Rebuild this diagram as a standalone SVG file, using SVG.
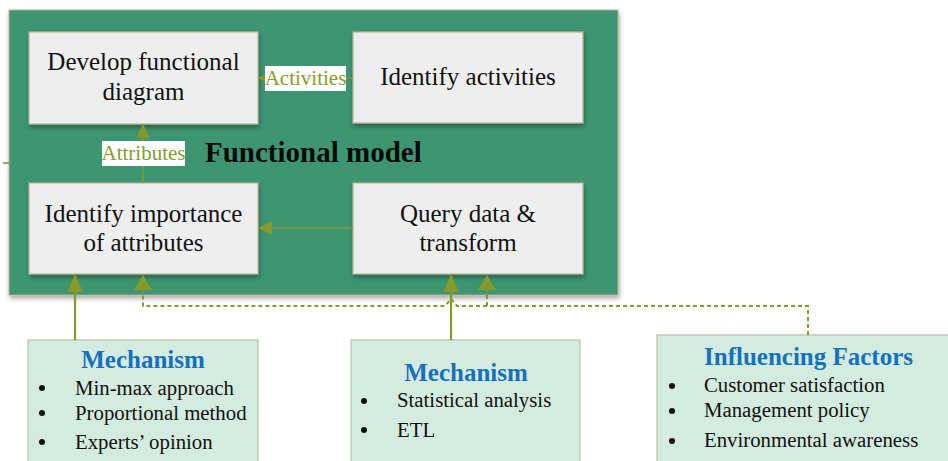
<svg xmlns="http://www.w3.org/2000/svg" width="948" height="461" viewBox="0 0 948 461">
  <defs>
    <style>
      .frame { fill: #3d9671; stroke: #b7b08e; stroke-width: 1; }
      .step { fill: #eeeeee; stroke: #b9b59a; stroke-width: 1.2; }
      .step-text { font-family: "Liberation Serif", "Times New Roman", serif; font-size: 25px; fill: #111111; text-anchor: middle; }
      .title { font-family: "Liberation Serif", "Times New Roman", serif; font-size: 29px; font-weight: bold; fill: #0a0a0a; }
      .tag { fill: #ffffff; }
      .tag-text { font-family: "Liberation Serif", "Times New Roman", serif; font-size: 21px; fill: #8b9b2c; text-anchor: middle; }
      .card { fill: #d4ecdf; stroke: #b3c4a4; stroke-width: 1.2; }
      .card-head { font-family: "Liberation Serif", "Times New Roman", serif; font-size: 25px; font-weight: bold; fill: #1670c0; }
      .card-text { font-family: "Liberation Serif", "Times New Roman", serif; font-size: 20.8px; fill: #111111; }
      .bullet { fill: #111111; }
      .flow { stroke: #86992d; stroke-width: 2.2; fill: none; }
      .thin { stroke: #86992d; stroke-width: 1.6; fill: none; }
      .dash { stroke: #86992d; stroke-width: 2; fill: none; stroke-dasharray: 4 3; }
      .tip { fill: #86992d; }
    </style>
    <marker id="head" markerWidth="14" markerHeight="14" refX="13" refY="7" orient="auto" markerUnits="userSpaceOnUse">
      <path d="M0,0 L14,7 L0,14 Z" fill="#86992d"/>
    </marker>
    <marker id="head-big" markerWidth="18" markerHeight="16" refX="17" refY="8" orient="auto" markerUnits="userSpaceOnUse">
      <path d="M0,0 L18,8 L0,16 Z" fill="#86992d"/>
    </marker>
    <marker id="head-small" markerWidth="9" markerHeight="9" refX="8" refY="4.5" orient="auto" markerUnits="userSpaceOnUse">
      <path d="M0,0 L9,4.5 L0,9 Z" fill="#86992d"/>
    </marker>
    <filter id="shade" x="-5%" y="-5%" width="112%" height="115%">
      <feGaussianBlur in="SourceAlpha" stdDeviation="2.5"/>
      <feOffset dx="1" dy="3" result="b"/>
      <feComponentTransfer><feFuncA type="linear" slope="0.35"/></feComponentTransfer>
      <feMerge><feMergeNode/><feMergeNode in="SourceGraphic"/></feMerge>
    </filter>
  </defs>

  <rect width="948" height="461" fill="#ffffff"/>

  <!-- outer container -->
  <g id="functional-model">
    <rect class="frame" x="9" y="10" width="609" height="285" filter="url(#shade)"/>
    <text class="title" x="205" y="162">Functional model</text>
  </g>

  <g id="develop-diagram">
    <rect class="step" x="29" y="32" width="229" height="92" filter="url(#shade)"/>
    <text class="step-text" x="143.5" y="70">Develop functional</text>
    <text class="step-text" x="143.5" y="100">diagram</text>
  </g>

  <g id="identify-activities">
    <rect class="step" x="353" y="32" width="230" height="91" filter="url(#shade)"/>
    <text class="step-text" x="468" y="85">Identify activities</text>
  </g>

  <g id="identify-importance">
    <rect class="step" x="29" y="183" width="229" height="91" filter="url(#shade)"/>
    <text class="step-text" x="143.5" y="222">Identify importance</text>
    <text class="step-text" x="143.5" y="251">of attributes</text>
  </g>

  <g id="query-transform">
    <rect class="step" x="353" y="183" width="230" height="91" filter="url(#shade)"/>
    <text class="step-text" x="468" y="222">Query data &amp;</text>
    <text class="step-text" x="468" y="251">transform</text>
  </g>

  <g id="mechanism-attributes">
    <rect class="card" x="28" y="340" width="230" height="130"/>
    <text class="card-head" x="143" y="368" text-anchor="middle">Mechanism</text>
    <circle class="bullet" cx="42" cy="388" r="3"/>
    <circle class="bullet" cx="42" cy="413" r="3"/>
    <circle class="bullet" cx="42" cy="442" r="3"/>
    <text class="card-text" x="75" y="395">Min-max approach</text>
    <text class="card-text" x="75" y="420">Proportional method</text>
    <text class="card-text" x="75" y="449">Experts’ opinion</text>
  </g>

  <g id="mechanism-query">
    <rect class="card" x="351" y="340" width="229" height="130"/>
    <text class="card-head" x="466" y="381" text-anchor="middle">Mechanism</text>
    <circle class="bullet" cx="364" cy="401" r="3"/>
    <circle class="bullet" cx="364" cy="430" r="3"/>
    <text class="card-text" x="397" y="407">Statistical analysis</text>
    <text class="card-text" x="397" y="437">ETL</text>
  </g>

  <g id="influencing-factors">
    <rect class="card" x="657" y="335" width="300" height="135"/>
    <text class="card-head" x="704" y="365">Influencing Factors</text>
    <circle class="bullet" cx="672" cy="386" r="3"/>
    <circle class="bullet" cx="672" cy="411" r="3"/>
    <circle class="bullet" cx="672" cy="441" r="3"/>
    <text class="card-text" x="704" y="392">Customer satisfaction</text>
    <text class="card-text" x="704" y="417">Management policy</text>
    <text class="card-text" x="704" y="447">Environmental awareness</text>
  </g>

  <g id="connectors">
    <!-- activities feed the functional diagram -->
    <line class="thin" x1="353" y1="78" x2="259" y2="78" marker-end="url(#head-small)"/>
    <rect class="tag" x="265" y="66" width="81" height="25"/>
    <text class="tag-text" x="305.5" y="85">Activities</text>

    <!-- attribute importance feeds the functional diagram -->
    <line class="thin" x1="143" y1="183" x2="143" y2="125" marker-end="url(#head)"/>
    <rect class="tag" x="102" y="141" width="83" height="25"/>
    <text class="tag-text" x="143.5" y="160">Attributes</text>

    <!-- query output to importance step -->
    <line class="thin" x1="353" y1="228" x2="259" y2="228" marker-end="url(#head)"/>

    <!-- mechanisms -->
    <line class="flow" x1="75" y1="340" x2="75" y2="275" marker-end="url(#head-big)"/>
    <line class="flow" x1="451" y1="340" x2="451" y2="275" marker-end="url(#head-big)"/>

    <!-- influencing factors, dashed, hopping over the mechanism line -->
    <path class="dash" d="M808,335 V306 H457 L451,299 L445,306 H143 V291"/>
    <path class="dash" d="M487,306 V291"/>
    <path class="tip" d="M134,290 L143,275 L152,290 Z"/>
    <path class="tip" d="M478,290 L487,275 L496,290 Z"/>

    <!-- stub entering the frame from the left -->
    <line class="thin" x1="3" y1="163" x2="9" y2="163"/>
  </g>
</svg>
